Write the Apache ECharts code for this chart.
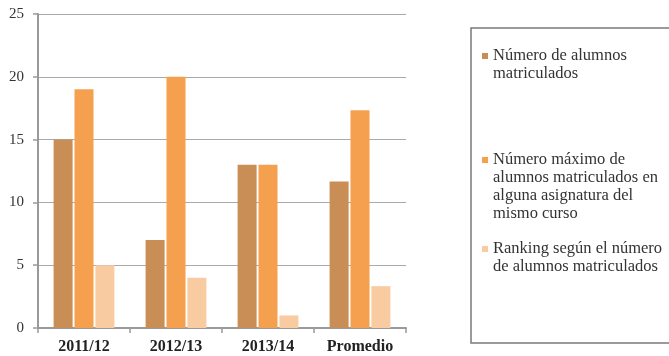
<!DOCTYPE html>
<html>
<head>
<meta charset="utf-8">
<script src="https://cdn.jsdelivr.net/npm/echarts@6/dist/echarts.min.js"></script>
<style>
html,body{margin:0;padding:0;background:#fff;}
#chart{width:669px;height:356px;}
</style>
</head>
<body>
<div id="chart"></div>
<script>
var categories = ['2011/12', '2012/13', '2013/14', 'Promedio'];
var seriesNames = [
  'Número de alumnos\nmatriculados',
  'Número máximo de\nalumnos matriculados en\nalguna asignatura del\nmismo curso',
  'Ranking según el número\nde alumnos matriculados'
];
var alumnos = [15, 7, 13, 11.67];
var maximo = [19, 20, 13, 17.33];
var ranking = [5, 4, 1, 3.33];
var colors = ['#C98E55', '#F5A04F', '#F9CBA0'];

var serif = '"Liberation Serif", "Times New Roman", serif';
var LH = 18;
function lines(s){ return s.split('\n').length; }
var legendTops = [56, 160, 249];

function iconPath(h){
  var c = LH / 2;
  return 'path://M0,0L6,0L6,0.01L0,0.01Z' +
    'M0,' + (c - 3) + 'L6,' + (c - 3) + 'L6,' + (c + 3) + 'L0,' + (c + 3) + 'Z' +
    'M0,' + (h - 0.01) + 'L6,' + (h - 0.01) + 'L6,' + h + 'L0,' + h + 'Z';
}

var chart = echarts.init(document.getElementById('chart'));
var legends = seriesNames.map(function(name, i){
  var h = lines(name) * LH;
  return {
    show: true,
    orient: 'vertical',
    left: 482,
    top: legendTops[i] - LH / 2,
    padding: 0,
    icon: iconPath(h),
    itemWidth: 6,
    itemHeight: h,
    selectedMode: false,
    data: [name],
    textStyle: {fontFamily: serif, fontSize: 16.5, color: '#333', lineHeight: LH}
  };
});

chart.setOption({
  animation: false,
  color: colors,
  grid: {left: 38, right: 263, top: 14, bottom: 28},
  legend: legends,
  graphic: [{
    type: 'rect',
    shape: {x: 471, y: 28, width: 210, height: 315},
    style: {fill: 'none', stroke: '#7a7a7a', lineWidth: 1.5},
    silent: true
  }],
  xAxis: {
    type: 'category',
    data: categories,
    axisLine: {show: true, lineStyle: {color: '#9a9a9a', width: 2}},
    axisTick: {show: true, length: 5, interval: 0, lineStyle: {color: '#9a9a9a', width: 1.5}},
    axisLabel: {fontFamily: serif, fontSize: 16, fontWeight: 'bold', color: '#222', margin: 11, interval: 0}
  },
  yAxis: {
    type: 'value',
    min: 0, max: 25, interval: 5,
    axisLine: {show: true, lineStyle: {color: '#9a9a9a', width: 2}},
    axisTick: {show: true, length: 5, lineStyle: {color: '#9a9a9a', width: 1.5}},
    axisLabel: {fontFamily: serif, fontSize: 15, color: '#333', margin: 14},
    splitLine: {show: true, lineStyle: {color: '#aaaaaa', width: 1}}
  },
  series: [
    {name: seriesNames[0], type: 'bar', data: alumnos, barWidth: 19, barGap: '10%'},
    {name: seriesNames[1], type: 'bar', data: maximo, barWidth: 19, barGap: '10%'},
    {name: seriesNames[2], type: 'bar', data: ranking, barWidth: 19, barGap: '10%'}
  ]
});
</script>
</body>
</html>
